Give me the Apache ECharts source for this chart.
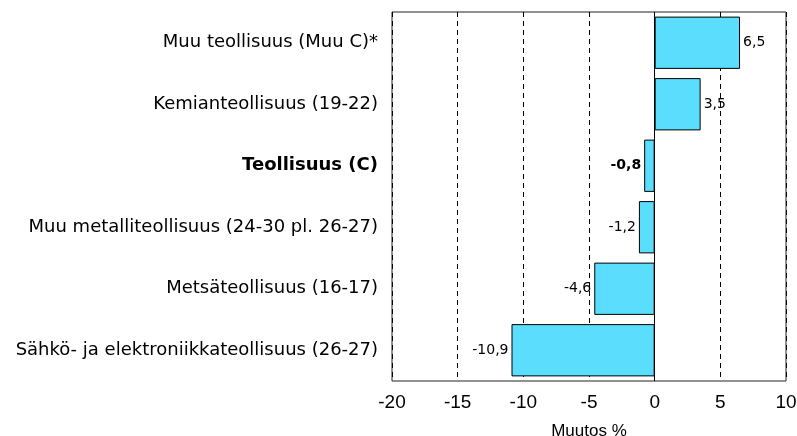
<!DOCTYPE html>
<html>
<head>
<meta charset="utf-8">
<script src="https://cdn.jsdelivr.net/npm/echarts@6/dist/echarts.min.js"></script>
<style>
  html, body { margin: 0; padding: 0; background: #fff; }
  #chart { width: 797px; height: 436px; }
</style>
</head>
<body>
<div id="chart"></div>
<script>
const categories = [
  "Muu teollisuus (Muu C)*",
  "Kemianteollisuus (19-22)",
  "Teollisuus (C)",
  "Muu metalliteollisuus (24-30 pl. 26-27)",
  "Metsäteollisuus (16-17)",
  "Sähkö- ja elektroniikkateollisuus (26-27)"
];
const changes = [6.5, 3.5, -0.8, -1.2, -4.6, -10.9];
const boldCategory = "Teollisuus (C)";
const axisMin = -20;
const axisMax = 10;
const axisStep = 5;

const fmt = v => String(v).replace(".", ",");

const chart = echarts.init(document.getElementById("chart"));

const seriesData = changes.map((v, i) => ({
  value: v,
  label: {
    position: v >= 0 ? "right" : "left",
    fontWeight: categories[i] === boldCategory ? "bold" : "normal"
  }
}));

chart.setOption({
  animation: false,
  backgroundColor: "#fff",
  grid: {
    left: 392,
    right: 11,
    top: 12,
    bottom: 55,
    outerBoundsMode: "none",
    containLabel: false,
    show: true,
    borderColor: "#222",
    borderWidth: 1,
    backgroundColor: "#fff"
  },
  xAxis: {
    type: "value",
    min: axisMin,
    max: axisMax,
    interval: axisStep,
    name: "Muutos %",
    nameLocation: "middle",
    nameGap: 42,
    nameTextStyle: { fontFamily: "Liberation Sans", fontSize: 17, color: "#000" },
    axisLine: { show: false },
    axisTick: { show: false },
    axisLabel: {
      fontFamily: "Liberation Sans",
      fontSize: 19,
      color: "#000",
      margin: 12
    },
    splitLine: {
      show: true,
      lineStyle: { color: "#000", width: 1, type: [5, 4] }
    }
  },
  yAxis: {
    type: "category",
    data: categories,
    inverse: true,
    axisLine: { show: false, onZero: false },
    axisTick: { show: false },
    axisLabel: {
      fontFamily: "DejaVu Sans",
      fontSize: 18,
      color: "#000",
      margin: 14,
      formatter: v => v === boldCategory ? "{b|" + v + "}" : v,
      rich: {
        b: { fontFamily: "DejaVu Sans", fontSize: 18, fontWeight: "bold", color: "#000" }
      }
    }
  },
  series: [
    {
      type: "bar",
      data: seriesData,
      barCategoryGap: "15%",
      itemStyle: { color: "#5BDDFE", borderColor: "#000", borderWidth: 1 },
      label: {
        show: true,
        distance: 3,
        fontFamily: "DejaVu Sans",
        fontSize: 14,
        color: "#000",
        formatter: p => fmt(p.value)
      },
      markLine: {
        silent: true,
        symbol: "none",
        label: { show: false },
        lineStyle: { color: "#000", width: 1, type: "solid" },
        data: [{ xAxis: 0 }]
      }
    }
  ]
});
</script>
</body>
</html>
